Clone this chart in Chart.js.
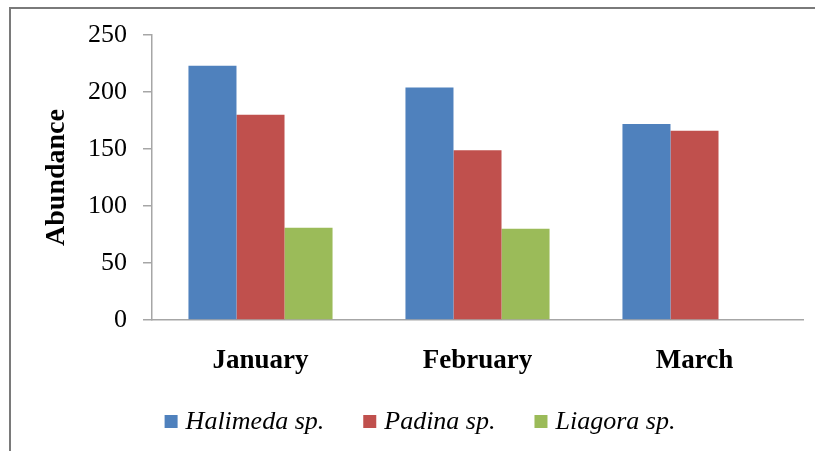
<!DOCTYPE html>
<html>
<head>
<meta charset="utf-8">
<script src="https://cdn.jsdelivr.net/npm/chart.js@4/dist/chart.umd.min.js"></script>
<style>
  html, body { margin: 0; padding: 0; background: #ffffff; }
  #wrap { width: 815px; height: 451px; position: relative; }
</style>
</head>
<body>
<div id="wrap"><canvas id="c" width="815" height="451"></canvas></div>
<script>
// Monthly abundance of three macroalgae genera
const months = ['January', 'February', 'March'];
const halimeda = [223, 204, 172];
const padina = [180, 149, 166];
const liagora = [81, 80, null];
const seriesNames = ['Halimeda sp.', 'Padina sp.', 'Liagora sp.'];
const seriesColors = ['#4F81BD', '#C0504D', '#9BBB59'];
const yTicks = [0, 50, 100, 150, 200, 250];

const serif = '"Liberation Serif", "Times New Roman", serif';
const axisGrey = '#A6A6A6';

// Outer frame and white background
const framePlugin = {
  id: 'frame',
  beforeDraw(chart) {
    const ctx = chart.ctx;
    ctx.save();
    ctx.fillStyle = '#ffffff';
    ctx.fillRect(0, 0, chart.width, chart.height);
    ctx.strokeStyle = '#7a7a7a';
    ctx.lineWidth = 2;
    ctx.strokeRect(10, 8, chart.width + 20, chart.height + 20);
    ctx.restore();
  }
};

// Horizontal legend row below the category labels
const legendRow = {
  id: 'legendRow',
  afterDraw(chart) {
    const ctx = chart.ctx;
    const box = 13, gap = 8, spacing = 39, cy = 421.5;
    ctx.save();
    ctx.font = 'italic 26px ' + serif;
    const items = chart.data.datasets.map(ds => ({
      text: ds.label, color: ds.backgroundColor, w: ctx.measureText(ds.label).width
    }));
    let total = 0;
    items.forEach((it, i) => { total += box + gap + it.w + (i ? spacing : 0); });
    let x = 420 - total / 2;
    ctx.textBaseline = 'middle';
    ctx.textAlign = 'left';
    items.forEach(it => {
      ctx.fillStyle = it.color;
      ctx.fillRect(x, cy - box / 2, box, box);
      ctx.fillStyle = '#000000';
      ctx.fillText(it.text, x + box + gap, cy + 1);
      x += box + gap + it.w + spacing;
    });
    ctx.restore();
  }
};

const datasets = [halimeda, padina, liagora].map((vals, i) => ({
  label: seriesNames[i],
  data: vals,
  backgroundColor: seriesColors[i],
  borderWidth: 0,
  categoryPercentage: 0.664,
  barPercentage: 1.0
}));

new Chart(document.getElementById('c'), {
  type: 'bar',
  data: { labels: months, datasets },
  plugins: [framePlugin, legendRow],
  options: {
    responsive: false,
    animation: false,
    devicePixelRatio: 1,
    layout: { padding: { top: 35, right: 12, left: 0, bottom: 61 } },
    plugins: {
      legend: { display: false },
      tooltip: { enabled: false }
    },
    scales: {
      x: {
        grid: { display: false, drawTicks: false },
        border: { display: true, color: axisGrey, width: 1.5 },
        ticks: {
          color: '#000000',
          font: { family: serif, size: 27, weight: 'bold' },
          padding: 25,
          maxRotation: 0
        },
        afterFit(scale) { scale.height = 70; }
      },
      y: {
        min: 0,
        max: 250,
        afterBuildTicks(scale) { scale.ticks = yTicks.map(v => ({ value: v })); },
        grid: {
          display: true,
          drawOnChartArea: false,
          drawTicks: true,
          tickLength: 9,
          color: axisGrey,
          lineWidth: 1.5
        },
        border: { display: true, color: axisGrey, width: 1.5 },
        ticks: {
          color: '#000000',
          font: { family: serif, size: 26 },
          padding: 16
        },
        title: {
          display: true,
          text: 'Abundance',
          color: '#000000',
          font: { family: serif, size: 28, weight: 'bold' },
          padding: { top: 40, bottom: 0 }
        },
        afterFit(scale) { scale.width = 152; }
      }
    }
  }
});
</script>
</body>
</html>
